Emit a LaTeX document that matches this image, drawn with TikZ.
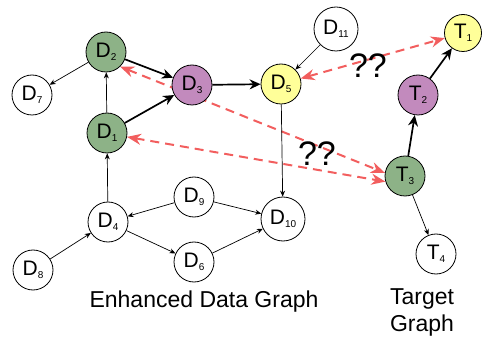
\documentclass[tikz,border=0pt]{standalone}
\usepackage{fontspec}
\setmainfont{Liberation Sans}
\usetikzlibrary{arrows.meta,backgrounds}
\definecolor{leafgreen}{HTML}{8DB287}
\definecolor{mauve}{HTML}{C28ABD}
\definecolor{paleyellow}{HTML}{FFFF99}
\definecolor{matchred}{HTML}{F25E5E}
\newcommand{\nsub}[1]{\raisebox{-3pt}{\fontsize{10}{10}\selectfont #1}}
\begin{document}
\begin{tikzpicture}[x=1pt,y=-1pt,
	vertex/.style={draw, circle, line width=0.8pt, minimum size=40pt, inner sep=0pt, font=\fontsize{21}{21}\selectfont},
	wide/.style={minimum size=44pt},
	link/.style={line width=0.7pt, -{Stealth[length=6pt,width=5pt]}},
	heavy/.style={line width=1.7pt, -{Stealth[length=11pt,width=10pt]}},
	match/.style={draw=matchred, line width=2pt, dash pattern=on 9pt off 6pt, {Stealth[length=14pt,width=11pt]}-{Stealth[length=14pt,width=11pt]}},
	caption/.style={font=\fontsize{23}{27}\selectfont, align=center},
	query/.style={font=\fontsize{34}{34}\selectfont}]
			\useasboundingbox (0,0) rectangle (482,339);

			% enhanced data graph
			\node	(d1) at (107,133) [vertex, fill=leafgreen] {D\nsub{1}};
			\node	(d2) at (106,52) [vertex, fill=leafgreen] {D\nsub{2}};
			\node	(d3) at (192,85) [vertex, fill=mauve] {D\nsub{3}};
			\node	(d4) at (108,222) [vertex] {D\nsub{4}};
			\node	(d5) at (281,84) [vertex, fill=paleyellow] {D\nsub{5}};
			\node	(d6) at (194,262) [vertex] {D\nsub{6}};
			\node	(d7) at (32,95) [vertex] {D\nsub{7}};
			\node	(d8) at (33,270) [vertex] {D\nsub{8}};
			\node	(d9) at (194,197) [vertex] {D\nsub{9}};
			\node	(d10) at (283,219) [vertex, wide] {D\nsub{10}};
			\node	(d11) at (336,29) [vertex, wide] {D\nsub{11}};

			% target graph
			\node	(t1) at (463,33) [vertex, fill=paleyellow, minimum size=37pt] {T\nsub{1}};
			\node	(t2) at (418,95) [vertex, fill=mauve] {T\nsub{2}};
			\node	(t3) at (405,176) [vertex, fill=leafgreen] {T\nsub{3}};
			\node	(t4) at (436,254) [vertex] {T\nsub{4}};

			\node	(dlabel) at (204,302) [caption] {Enhanced Data Graph};
			\node	(tlabel) at (422,312) [caption] {Target\\Graph};
			\node	(q1) at (368,66) [query] {??};
			\node	(q2) at (317,154) [query] {??};

			\draw 
			(d2) edge[link] (d7)
			(d1) edge[link] (d2)
			(d4) edge[link] (d1)
			(d8) edge[link] (d4)
			(d9) edge[link] (d4)
			(d4) edge[link] (d6)
			(d9) edge[link] (d10)
			(d6) edge[link] (d10)
			(d5) edge[link] (d10)
			(d11) edge[link] (d5)
			(t3) edge[link] (t4)
			(d2) edge[heavy] (d3)
			(d1) edge[heavy] (d3)
			(d3) edge[heavy] (d5)
			(t3) edge[heavy] (t2)
			(t2) edge[heavy] (t1)
			;

			\begin{scope}[on background layer]
			\draw 
			(d2.314) edge[match] (t3.171)
			(d1.349) edge[match] (t3.196)
			(d5) edge[match] (t1)
			;
			\end{scope}
		\end{tikzpicture}
\end{document}
